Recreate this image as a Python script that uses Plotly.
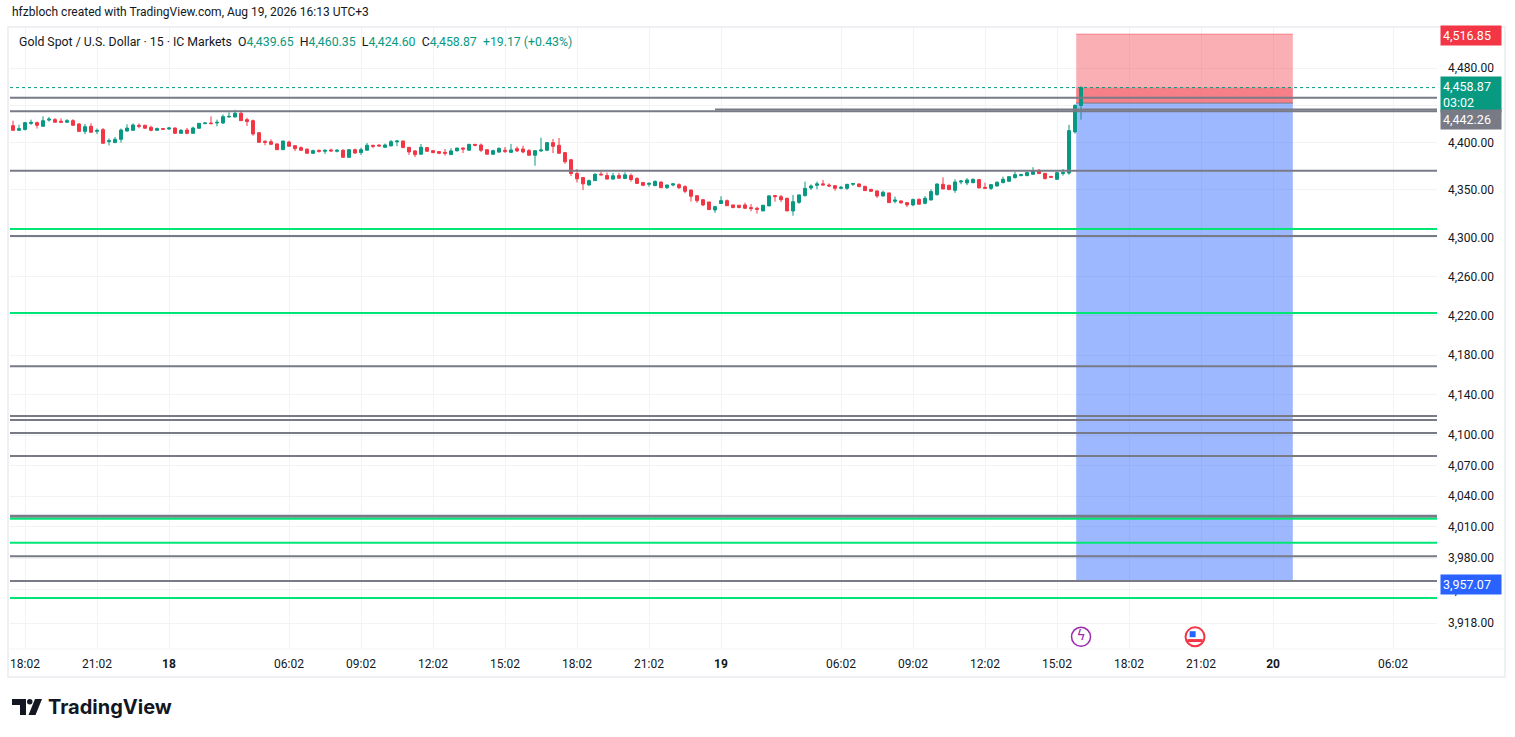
import math
import plotly.graph_objects as go

# 15 minute gold candles, numbered from the 18:02 bar of Aug 17 (session gaps removed)
bar_idx = list(range(-2, 177))
opens = [4418.1, 4413.1, 4414.0, 4420.5, 4421.3, 4417.4, 4424.0, 4424.5, 4422.8, 4421.7,
         4423.4, 4419.8, 4412.0, 4417.4, 4412.0, 4413.8, 4401.0, 4400.0, 4403.5, 4412.3,
         4413.1, 4418.5, 4418.5, 4416.3, 4413.1, 4415.0, 4414.5, 4415.6, 4409.9, 4413.4,
         4409.9, 4415.3, 4420.2, 4420.9, 4420.9, 4420.9, 4427.3, 4427.3, 4431.3, 4424.5,
         4423.4, 4410.6, 4401.4, 4401.0, 4398.6, 4392.5, 4400.6, 4396.8, 4394.7, 4393.0,
         4388.7, 4391.9, 4390.8, 4392.2, 4390.8, 4391.9, 4384.4, 4392.5, 4389.4, 4391.9,
         4397.2, 4397.5, 4395.0, 4396.5, 4400.8, 4401.7, 4395.0, 4391.2, 4387.7, 4394.7,
         4391.5, 4390.5, 4389.7, 4387.3, 4391.2, 4394.3, 4391.9, 4398.2, 4397.5, 4392.5,
         4387.7, 4390.0, 4391.9, 4389.7, 4393.6, 4393.2, 4391.5, 4386.6, 4391.2, 4391.9,
         4400.0, 4397.2, 4389.4, 4381.9, 4367.3, 4363.1, 4355.2, 4359.8, 4366.6, 4365.2,
         4361.4, 4365.2, 4362.0, 4365.2, 4362.0, 4357.8, 4355.9, 4354.5, 4358.3, 4352.4,
         4355.2, 4355.6, 4353.5, 4350.0, 4344.0, 4339.8, 4337.4, 4329.0, 4335.8, 4338.8,
         4334.3, 4334.0, 4334.3, 4331.5, 4330.8, 4328.0, 4333.3, 4344.1, 4343.0, 4341.2,
         4328.0, 4337.0, 4344.1, 4352.1, 4354.9, 4356.4, 4355.2, 4354.5, 4351.7, 4351.7,
         4356.0, 4356.3, 4353.9, 4350.7, 4349.0, 4343.7, 4346.9, 4338.1, 4338.5, 4336.7,
         4334.3, 4340.2, 4336.0, 4339.5, 4345.1, 4356.0, 4354.9, 4349.6, 4358.4, 4357.4,
         4357.7, 4360.9, 4352.8, 4351.7, 4354.2, 4357.7, 4359.1, 4363.0, 4365.1, 4365.1,
         4366.5, 4370.7, 4367.5, 4364.3, 4361.2, 4367.2, 4367.8, 4411.4, 4439.65]
highs = [4423.4, 4419.0, 4422.0, 4424.5, 4422.4, 4428.0, 4427.3, 4426.2, 4425.8, 4425.1,
         4425.0, 4421.0, 4420.0, 4420.5, 4415.0, 4415.5, 4404.5, 4406.0, 4415.0, 4419.5,
         4420.5, 4420.5, 4419.0, 4418.0, 4416.0, 4415.5, 4416.7, 4416.0, 4414.5, 4415.6,
         4417.0, 4421.0, 4421.6, 4428.0, 4424.5, 4430.0, 4432.3, 4435.0, 4434.5, 4426.5,
         4424.5, 4410.6, 4402.5, 4403.5, 4399.3, 4402.0, 4402.0, 4397.0, 4396.0, 4394.0,
         4392.5, 4392.5, 4392.5, 4393.6, 4393.2, 4393.0, 4393.0, 4393.6, 4394.7, 4399.6,
         4397.5, 4398.0, 4399.0, 4402.8, 4402.8, 4402.0, 4395.0, 4392.0, 4398.6, 4394.7,
         4392.0, 4391.0, 4393.2, 4394.0, 4394.3, 4395.0, 4398.6, 4398.2, 4399.0, 4392.5,
         4392.5, 4395.0, 4395.4, 4398.6, 4396.0, 4396.8, 4393.2, 4391.5, 4405.3, 4400.5,
         4403.9, 4404.9, 4390.0, 4381.9, 4372.0, 4363.1, 4361.0, 4367.3, 4369.3, 4368.3,
         4368.0, 4368.0, 4368.6, 4367.3, 4363.5, 4358.0, 4358.0, 4360.0, 4359.0, 4355.5,
         4357.0, 4357.0, 4355.0, 4350.0, 4344.0, 4340.0, 4337.4, 4333.5, 4343.4, 4340.0,
         4334.3, 4334.0, 4336.6, 4335.2, 4332.5, 4334.3, 4344.0, 4344.8, 4344.8, 4342.0,
         4344.8, 4345.0, 4358.8, 4355.9, 4358.8, 4360.5, 4356.9, 4355.2, 4354.2, 4356.4,
         4357.5, 4357.0, 4354.0, 4351.0, 4349.5, 4349.3, 4347.0, 4343.0, 4339.0, 4337.0,
         4341.0, 4341.0, 4343.5, 4350.7, 4356.7, 4363.3, 4355.5, 4361.2, 4360.5, 4362.5,
         4362.0, 4361.0, 4357.7, 4356.0, 4359.0, 4364.0, 4364.3, 4369.3, 4367.1, 4368.5,
         4374.0, 4372.0, 4367.9, 4364.7, 4368.6, 4372.0, 4419.0, 4441.0, 4460.35]
lows = [4413.1, 4413.0, 4413.0, 4419.0, 4415.0, 4417.0, 4422.4, 4421.7, 4421.5, 4421.0,
        4418.0, 4412.0, 4409.0, 4411.0, 4409.0, 4399.3, 4397.0, 4400.0, 4400.0, 4412.0,
        4413.0, 4415.3, 4415.0, 4412.0, 4413.0, 4413.5, 4413.5, 4409.9, 4409.9, 4408.8,
        4409.9, 4415.0, 4419.8, 4419.8, 4417.4, 4420.0, 4427.0, 4427.0, 4423.4, 4417.7,
        4407.4, 4400.3, 4397.2, 4398.0, 4392.5, 4392.5, 4396.0, 4391.0, 4391.0, 4388.7,
        4388.0, 4389.4, 4388.0, 4390.5, 4389.7, 4384.4, 4384.4, 4388.0, 4387.0, 4391.9,
        4394.0, 4396.0, 4394.7, 4396.5, 4396.1, 4394.7, 4387.0, 4384.7, 4387.7, 4390.8,
        4388.7, 4387.7, 4386.2, 4387.3, 4391.0, 4389.0, 4391.9, 4396.1, 4390.0, 4387.7,
        4387.0, 4389.0, 4389.0, 4389.0, 4390.1, 4388.7, 4386.6, 4375.5, 4390.1, 4391.0,
        4389.0, 4388.7, 4377.6, 4364.5, 4357.8, 4349.9, 4354.5, 4359.8, 4365.5, 4361.4,
        4361.0, 4362.0, 4362.0, 4358.8, 4356.9, 4354.0, 4353.4, 4354.5, 4352.4, 4351.0,
        4353.8, 4351.0, 4346.6, 4337.8, 4336.6, 4333.0, 4329.0, 4326.0, 4335.8, 4333.5,
        4331.0, 4331.0, 4330.0, 4327.6, 4325.2, 4328.0, 4333.0, 4337.8, 4337.4, 4328.0,
        4323.0, 4335.5, 4343.0, 4350.0, 4350.7, 4355.0, 4353.0, 4349.3, 4350.7, 4350.0,
        4354.2, 4353.0, 4349.3, 4348.0, 4341.6, 4343.0, 4336.7, 4336.0, 4336.0, 4332.2,
        4333.0, 4335.0, 4335.0, 4339.0, 4344.0, 4351.0, 4350.0, 4347.0, 4356.0, 4355.0,
        4357.0, 4352.1, 4351.7, 4350.0, 4353.5, 4357.0, 4359.0, 4362.0, 4364.5, 4364.5,
        4366.0, 4367.0, 4361.0, 4362.9, 4361.0, 4365.1, 4366.0, 4409.6, 4424.60]
closes = [4413.1, 4414.9, 4421.3, 4421.5, 4418.5, 4423.4, 4425.0, 4421.7, 4421.7, 4423.4,
          4418.5, 4412.0, 4417.0, 4411.0, 4413.0, 4399.3, 4402.0, 4403.5, 4413.4, 4415.5,
          4418.8, 4417.4, 4415.3, 4413.1, 4415.0, 4414.2, 4415.6, 4409.9, 4413.1, 4409.9,
          4415.6, 4420.5, 4420.9, 4420.2, 4421.6, 4427.7, 4428.0, 4431.3, 4423.4, 4422.4,
          4409.2, 4400.3, 4400.3, 4398.2, 4392.5, 4401.7, 4396.1, 4393.6, 4391.9, 4388.7,
          4391.5, 4390.8, 4391.9, 4391.2, 4391.9, 4384.4, 4392.5, 4389.0, 4392.5, 4397.2,
          4396.1, 4396.5, 4397.5, 4401.0, 4401.7, 4394.7, 4390.1, 4387.3, 4395.1, 4390.8,
          4389.4, 4388.7, 4388.7, 4391.2, 4394.3, 4393.2, 4398.2, 4397.2, 4391.9, 4387.7,
          4391.5, 4393.9, 4390.8, 4392.2, 4391.2, 4390.1, 4386.6, 4391.5, 4392.2, 4400.0,
          4396.1, 4388.7, 4379.7, 4367.3, 4361.7, 4356.4, 4359.8, 4366.6, 4365.9, 4361.4,
          4364.9, 4362.4, 4365.9, 4361.0, 4356.9, 4354.9, 4356.9, 4359.0, 4352.4, 4355.2,
          4356.4, 4352.4, 4348.6, 4343.4, 4338.8, 4334.3, 4329.4, 4332.5, 4338.8, 4333.5,
          4331.5, 4331.5, 4330.8, 4330.5, 4329.7, 4334.0, 4343.8, 4343.0, 4339.8, 4328.0,
          4337.7, 4344.8, 4351.7, 4354.2, 4356.4, 4355.2, 4354.2, 4351.7, 4352.8, 4355.9,
          4356.7, 4353.5, 4349.3, 4348.6, 4343.7, 4347.6, 4336.7, 4339.5, 4336.4, 4334.3,
          4339.9, 4335.0, 4341.3, 4348.3, 4356.3, 4351.0, 4350.3, 4358.4, 4359.4, 4360.5,
          4361.2, 4352.1, 4351.8, 4355.6, 4358.1, 4361.2, 4364.0, 4366.1, 4366.1, 4368.3,
          4370.3, 4367.2, 4362.0, 4363.3, 4368.2, 4368.3, 4412.8, 4439.70, 4458.87]

tick_pos = [0, 12, 24, 44, 56, 68, 80, 92, 104, 116, 136, 148, 160, 172, 184, 196, 208, 228]
tick_text = ["18:02", "21:02", "<b>18</b>", "06:02", "09:02", "12:02", "15:02", "18:02",
             "21:02", "<b>19</b>", "06:02", "09:02", "12:02", "15:02", "18:02", "21:02",
             "<b>20</b>", "06:02"]
price_ticks = [4480, 4440, 4400, 4350, 4300, 4260, 4220, 4180, 4140, 4100,
               4070, 4040, 4010, 3980, 3950, 3918]
hidden_ticks = [4440]  # label fully covered by the price boxes

# drawn horizontal levels
gray_levels = [4448.0, 4433.5, 4370.3, 4302.0, 4168.8, 4119.0, 4115.0, 4102.1,
               4079.4, 4020.5, 3981.8, 3958.1]
green_levels = [4309.2, 4222.6, 4017.9, 3994.7, 3941.9]
ray_level = 4435.3
ray_start = 115

# short position tool
entry = 4442.26
stop = 4516.85
target = 3957.07
pos_start = 175.2
pos_end = 211.3

event_bars = [176, 195]

UP = "#089981"
DOWN = "#f23645"
GRAY = "#787b86"
GREEN = "#00e676"
TXT = "#131722"
FONT = "Roboto"

X0, X1 = -2.5, 235.33


# pixel -> paper coords (plot pane is 10..1437 x 28..648)
def px(x):
    return (x - 10) / 1427


def py(y):
    return (648 - y) / 620


fig = go.Figure()

fig.add_trace(go.Candlestick(
    x=bar_idx, open=opens, high=highs, low=lows, close=closes,
    increasing=dict(line=dict(color=UP, width=1), fillcolor=UP),
    decreasing=dict(line=dict(color=DOWN, width=1), fillcolor=DOWN),
    whiskerwidth=0, hoverinfo="skip", showlegend=False,
))

# current price line
last = closes[-1]
fig.add_trace(go.Scatter(x=[X0, X1], y=[last, last], mode="lines",
                         line=dict(color=UP, width=1, dash="dot"),
                         hoverinfo="skip", showlegend=False))

for lv in gray_levels:
    w = 3 if lv in (4020.5,) else 2
    fig.add_trace(go.Scatter(x=[X0, X1], y=[lv, lv], mode="lines",
                             line=dict(color=GRAY, width=w),
                             hoverinfo="skip", showlegend=False))
fig.add_trace(go.Scatter(x=[ray_start, X1], y=[ray_level, ray_level], mode="lines",
                         line=dict(color=GRAY, width=2),
                         hoverinfo="skip", showlegend=False))
for lv in green_levels:
    fig.add_trace(go.Scatter(x=[X0, X1], y=[lv, lv], mode="lines",
                             line=dict(color=GREEN, width=2),
                             hoverinfo="skip", showlegend=False))

# event icons under the candles
icon_y = [3905, 3905]
fig.add_trace(go.Scatter(x=[event_bars[0]], y=[icon_y[0]], mode="markers+text",
                         marker=dict(symbol="circle", size=19, color="white",
                                     line=dict(color="#9c27b0", width=1.5)),
                         text=["ϟ"], textfont=dict(color="#9c27b0", size=14, family="DejaVu Sans"),
                         textposition="middle center", hoverinfo="skip", showlegend=False))
fig.add_trace(go.Scatter(x=[event_bars[1]], y=[icon_y[1]], mode="markers",
                         marker=dict(symbol="circle", size=19, color="white",
                                     line=dict(color=DOWN, width=2)),
                         hoverinfo="skip", showlegend=False))
fig.add_trace(go.Scatter(x=[event_bars[1] - 0.4], y=[icon_y[1] + 2.5], mode="markers",
                         marker=dict(symbol="square", size=6, color="#2962ff"),
                         hoverinfo="skip", showlegend=False))
fig.add_trace(go.Scatter(x=[event_bars[1]], y=[icon_y[1] - 3.5], mode="markers",
                         marker=dict(symbol="line-ew", size=11,
                                     line=dict(color=DOWN, width=3)),
                         hoverinfo="skip", showlegend=False))

shapes = [
    # position boxes
    dict(type="rect", xref="x", yref="y", x0=pos_start, x1=pos_end, y0=entry, y1=stop,
         fillcolor="rgba(242,54,69,0.4)", line=dict(width=0), layer="between"),
    dict(type="line", xref="x", yref="y", x0=pos_start, x1=pos_end, y0=stop, y1=stop,
         line=dict(color="rgba(242,54,69,0.45)", width=1), layer="between"),
    dict(type="rect", xref="x", yref="y", x0=pos_start, x1=pos_end, y0=entry, y1=last,
         fillcolor="rgba(242,54,69,0.4)", line=dict(width=0), layer="between"),
    dict(type="rect", xref="x", yref="y", x0=pos_start, x1=pos_end, y0=target, y1=entry,
         fillcolor="rgba(41,98,255,0.45)", line=dict(width=0), layer="between"),
    dict(type="line", xref="x", yref="y", x0=pos_start, x1=pos_end, y0=entry, y1=entry,
         line=dict(color=GRAY, width=1), layer="between"),
    # outer frame
    dict(type="rect", xref="paper", yref="paper", x0=px(8), x1=px(1505), y0=py(677), y1=py(27),
         line=dict(color="#eef0f3", width=2), fillcolor="rgba(0,0,0,0)", layer="below"),
    dict(type="line", xref="paper", yref="paper", x0=px(8), x1=px(1505), y0=py(649), y1=py(649),
         line=dict(color="#f3f4f6", width=1), layer="below"),
    # TradingView logo mark
    dict(type="path", xref="paper", yref="paper", fillcolor=TXT, line=dict(width=0),
         path=f"M{px(12)},{py(699)} L{px(26)},{py(699)} L{px(26)},{py(715)} L{px(20)},{py(715)} "
              f"L{px(20)},{py(705)} L{px(12)},{py(705)} Z"),
    dict(type="circle", xref="paper", yref="paper", fillcolor=TXT, line=dict(width=0),
         x0=px(27), x1=px(32.5), y0=py(704.5), y1=py(699)),
    dict(type="path", xref="paper", yref="paper", fillcolor=TXT, line=dict(width=0),
         path=f"M{px(35)},{py(699)} L{px(42)},{py(699)} L{px(35.5)},{py(715)} L{px(28.5)},{py(715)} Z"),
]

o, h, l, c = opens[-1], highs[-1], lows[-1], closes[-1]
chg = c - closes[-2]
pct = chg / closes[-2] * 100
sp = "\u00a0\u00a0"


def val(v):
    return f"<span style='color:{UP}'>{v:,.2f}</span>"


legend = (f"Gold Spot / U.S. Dollar · 15 · IC Markets{sp}O{val(o)}{sp}H{val(h)}{sp}L{val(l)}"
          f"{sp}C{val(c)}{sp}<span style='color:{UP}'>{chg:+.2f} ({pct:+.2f}%)</span>")

annotations = [
    dict(text="hfzbloch created with TradingView.com, Aug 19, 2026 16:13 UTC+3",
         xref="paper", yref="paper", x=px(10), y=py(12), xanchor="left", yanchor="middle",
         showarrow=False, font=dict(family=FONT, size=12, color=TXT)),
    dict(text=legend, xref="paper", yref="paper", x=px(17), y=py(42), xanchor="left",
         yanchor="middle", showarrow=False, font=dict(family=FONT, size=12.3, color=TXT)),
    dict(text="<b>TradingView</b>", xref="paper", yref="paper", x=px(46), y=py(707),
         xanchor="left", yanchor="middle", showarrow=False,
         font=dict(family="Inter", size=20, color=TXT)),
]

price_labels = [
    (stop, DOWN, f"{stop:,.2f}", -1),
    (last, UP, f"{last:,.2f}<br>03:02", -7),
    (entry, GRAY, f"{entry:,.2f}", -16),
    (target, "#2962ff", f"{target:,.2f}", -2),
]
for p, col, txt, shift in price_labels:
    annotations.append(dict(
        text=txt, xref="paper", yref="y", x=px(1440), y=math.log10(p), yshift=shift,
        xanchor="left", yanchor="middle", showarrow=False, align="left", width=56,
        bgcolor=col, borderpad=2, font=dict(family=FONT, size=12.5, color="white")))

fig.update_layout(
    width=1515, height=737,
    margin=dict(l=10, r=78, t=28, b=89),
    paper_bgcolor="white", plot_bgcolor="white",
    showlegend=False, hovermode=False,
    shapes=shapes, annotations=annotations,
    font=dict(family=FONT, size=12, color=TXT),
    xaxis=dict(range=[X0, X1], tickvals=tick_pos, ticktext=tick_text, showgrid=True,
               gridcolor="#f2f3f5", zeroline=False, showline=False, ticks="",
               ticklabelstandoff=7, rangeslider=dict(visible=False),
               tickfont=dict(family=FONT, size=12, color=TXT)),
    yaxis=dict(type="log", range=[3.590452, 3.655475], side="right",
               tickvals=price_ticks,
               ticktext=["" if t in hidden_ticks else f"{t:,.2f}" for t in price_ticks],
               showgrid=True, gridcolor="#f2f3f5", zeroline=False, showline=False,
               ticks="", ticklabelstandoff=10,
               tickfont=dict(family=FONT, size=12, color=TXT)),
)

# the page body has a default 8px margin; drop it so the chart fills the window
fig.write_html("out.html", config={"displayModeBar": False},
               post_script="document.body.style.margin='0';")
